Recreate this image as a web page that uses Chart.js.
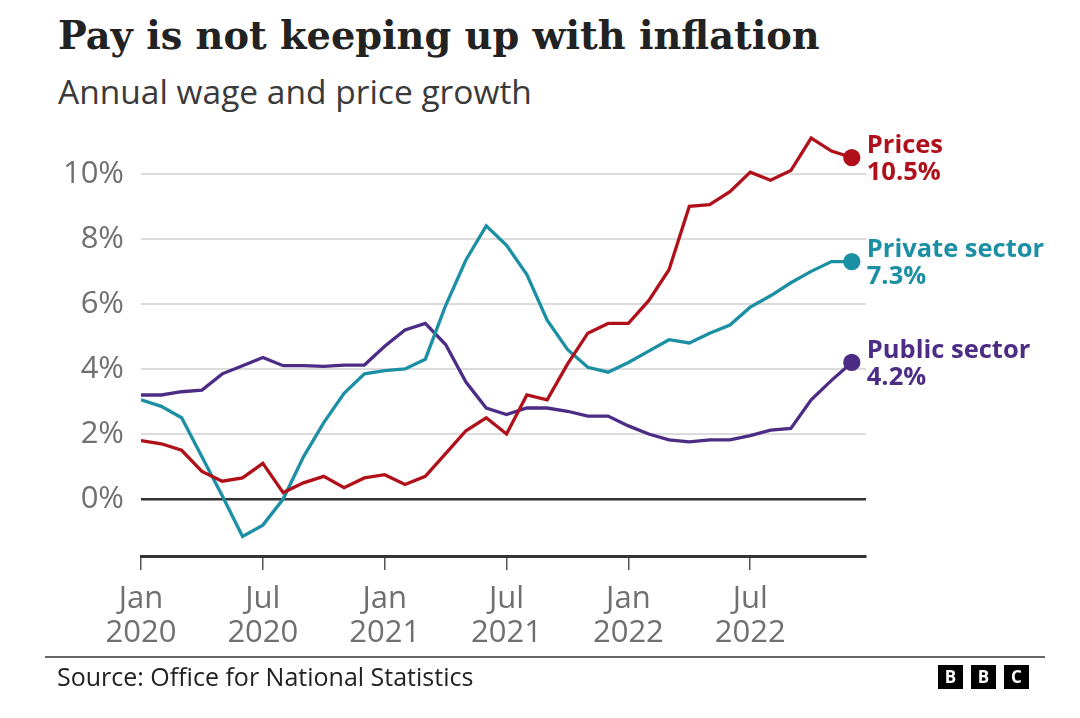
<!DOCTYPE html>
<html lang="en">
<head>
    <meta charset="UTF-8">
    <title>Pay is not keeping up with inflation</title>
    <script src="https://cdn.jsdelivr.net/npm/chart.js"></script>
    <style>
        body, html {
            margin: 0;
            width: 1080px;
            height: 718px;
            background: #fff;
            overflow: hidden;
        }
        .title {
            position: absolute;
            left: 58px;
            top: 13px;
            font-family: "DejaVu Serif", serif;
            font-weight: bold;
            font-size: 38.3px;
            color: #222;
            white-space: nowrap;
        }
        .subtitle {
            position: absolute;
            left: 58px;
            top: 68px;
            font-family: "Open Sans", sans-serif;
            font-size: 33.5px;
            color: #3a3a3a;
            white-space: nowrap;
        }
        .chart-container {
            position: absolute;
            left: 0;
            top: 0;
            width: 1080px;
            height: 718px;
        }
        .rule {
            position: absolute;
            left: 45px;
            top: 656px;
            width: 1000px;
            height: 0;
            border-top: 2px solid #666;
        }
        .source {
            position: absolute;
            left: 57px;
            top: 659px;
            font-family: "Open Sans", sans-serif;
            font-size: 25px;
            color: #222;
            white-space: nowrap;
        }
        .bbc {
            position: absolute;
            left: 938px;
            top: 665px;
            display: flex;
            gap: 8px;
        }
        .bbc span {
            width: 25px;
            height: 24px;
            background: #000;
            color: #fff;
            font-family: "Open Sans", sans-serif;
            font-weight: bold;
            font-size: 17px;
            line-height: 24px;
            text-align: center;
        }
    </style>
</head>
<body>
    <div class="title">Pay is not keeping up with inflation</div>
    <div class="subtitle">Annual wage and price growth</div>
    <div class="chart-container">
        <canvas id="payChart" width="1080" height="718"></canvas>
    </div>
    <div class="rule"></div>
    <div class="source">Source: Office for National Statistics</div>
    <div class="bbc"><span>B</span><span>B</span><span>C</span></div>
    <script>
        // Jan 2020 .. Dec 2022, monthly
        const months = [
            'Jan 2020', 'Feb 2020', 'Mar 2020', 'Apr 2020', 'May 2020', 'Jun 2020',
            'Jul 2020', 'Aug 2020', 'Sep 2020', 'Oct 2020', 'Nov 2020', 'Dec 2020',
            'Jan 2021', 'Feb 2021', 'Mar 2021', 'Apr 2021', 'May 2021', 'Jun 2021',
            'Jul 2021', 'Aug 2021', 'Sep 2021', 'Oct 2021', 'Nov 2021', 'Dec 2021',
            'Jan 2022', 'Feb 2022', 'Mar 2022', 'Apr 2022', 'May 2022', 'Jun 2022',
            'Jul 2022', 'Aug 2022', 'Sep 2022', 'Oct 2022', 'Nov 2022', 'Dec 2022'
        ];

        const prices = [
            1.8, 1.7, 1.5, 0.85, 0.55, 0.65, 1.1, 0.2, 0.5, 0.7, 0.35, 0.65,
            0.75, 0.45, 0.7, 1.4, 2.1, 2.5, 2.0, 3.2, 3.05, 4.15, 5.1, 5.4,
            5.4, 6.1, 7.05, 9.0, 9.05, 9.45, 10.05, 9.8, 10.1, 11.1, 10.7, 10.5
        ];

        const privateSector = [
            3.05, 2.85, 2.5, 1.3, 0.1, -1.15, -0.8, 0.0, 1.3, 2.35, 3.25, 3.85,
            3.95, 4.0, 4.3, 5.95, 7.35, 8.4, 7.8, 6.9, 5.5, 4.6, 4.05, 3.9,
            4.2, 4.55, 4.9, 4.8, 5.1, 5.35, 5.9, 6.25, 6.65, 7.0, 7.3, 7.3
        ];

        const publicSector = [
            3.2, 3.2, 3.3, 3.35, 3.85, 4.1, 4.35, 4.1, 4.1, 4.08, 4.12, 4.12,
            4.7, 5.2, 5.4, 4.75, 3.6, 2.8, 2.6, 2.8, 2.8, 2.7, 2.55, 2.55,
            2.25, 2.0, 1.82, 1.76, 1.82, 1.82, 1.95, 2.12, 2.17, 3.05, 3.65, 4.2
        ];

        const seriesNames = ['Prices', 'Private sector', 'Public sector'];
        const seriesColors = ['#b0101a', '#1b8fa3', '#4c2c84'];

        const xTickMonths = [0, 6, 12, 18, 24, 30];
        const xTickLabels = [
            ['Jan', '2020'], ['Jul', '2020'], ['Jan', '2021'],
            ['Jul', '2021'], ['Jan', '2022'], ['Jul', '2022']
        ];
        const yTicks = [0, 2, 4, 6, 8, 10];

        const sansFont = '"Open Sans", sans-serif';

        function toPoints(values) {
            return values.map((v, i) => ({ x: i, y: v }));
        }

        const allSeries = [prices, privateSector, publicSector];
        const lastIndex = months.length - 1;

        // labels at the end of each line
        const endLabels = {
            id: 'endLabels',
            afterDatasetsDraw(chart) {
                const ctx = chart.ctx;
                ctx.save();
                ctx.font = 'bold 25.5px ' + sansFont;
                ctx.textAlign = 'left';
                ctx.textBaseline = 'middle';
                chart.data.datasets.forEach((ds, i) => {
                    const pt = chart.getDatasetMeta(i).data[lastIndex];
                    const last = allSeries[i][lastIndex];
                    ctx.fillStyle = ds.borderColor;
                    ctx.fillText(seriesNames[i], pt.x + 15, pt.y - 12);
                    ctx.fillText(last.toFixed(1) + '%', pt.x + 15, pt.y + 15);
                });
                ctx.restore();
            }
        };

        const ctx = document.getElementById('payChart').getContext('2d');

        const payChart = new Chart(ctx, {
            type: 'line',
            data: {
                datasets: allSeries.map((values, i) => ({
                    label: seriesNames[i],
                    data: toPoints(values),
                    borderColor: seriesColors[i],
                    backgroundColor: seriesColors[i],
                    borderWidth: 3.3,
                    tension: 0,
                    pointRadius: c => c.dataIndex === lastIndex ? 7 : 0,
                    pointHoverRadius: 0
                }))
            },
            options: {
                responsive: false,
                animation: false,
                layout: {
                    padding: { left: 41, top: 125, right: 214, bottom: 62 }
                },
                plugins: {
                    legend: { display: false },
                    tooltip: { enabled: false }
                },
                scales: {
                    x: {
                        type: 'linear',
                        min: 0,
                        max: 35.7,
                        afterBuildTicks: scale => {
                            scale.ticks = xTickMonths.map(v => ({ value: v }));
                        },
                        afterFit: scale => { scale.height = 100; },
                        grid: {
                            drawOnChartArea: false,
                            drawTicks: true,
                            tickLength: 14,
                            color: '#555',
                            lineWidth: 1.5
                        },
                        border: { display: true, color: '#333', width: 3 },
                        ticks: {
                            padding: 12,
                            color: '#707070',
                            font: { family: sansFont, size: 31, lineHeight: 1.1 },
                            maxRotation: 0,
                            callback: value => xTickLabels[xTickMonths.indexOf(value)]
                        }
                    },
                    y: {
                        min: -1.75,
                        max: 11.5,
                        afterBuildTicks: scale => {
                            scale.ticks = yTicks.map(v => ({ value: v }));
                        },
                        afterFit: scale => { scale.width = 100; },
                        grid: {
                            drawTicks: false,
                            color: c => c.tick && c.tick.value === 0 ? '#333' : '#dcdcdc',
                            lineWidth: c => c.tick && c.tick.value === 0 ? 2.5 : 2
                        },
                        border: { display: false },
                        ticks: {
                            padding: 17,
                            color: '#707070',
                            font: { family: sansFont, size: 31 },
                            callback: value => value + '%'
                        }
                    }
                }
            },
            plugins: [endLabels]
        });
    </script>
</body>
</html>
